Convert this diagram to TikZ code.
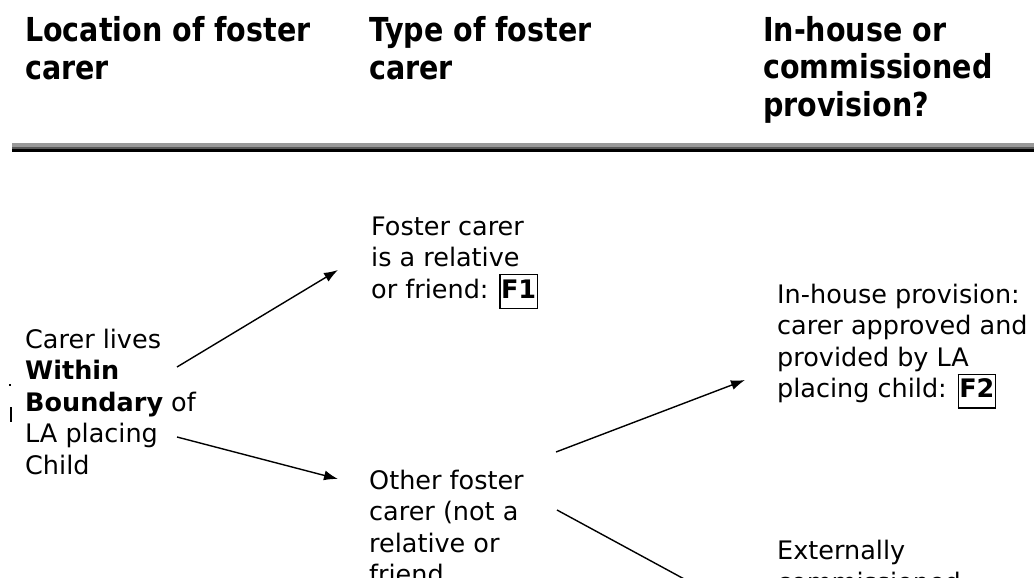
\documentclass[tikz,border=0pt]{standalone}
\usepackage{fontspec}
\setmainfont{DejaVu Sans}
\newfontfamily\headfont[FakeStretch=0.865]{DejaVu Sans}
\usetikzlibrary{arrows.meta}
\newcommand{\fcode}[1]{{\setlength{\fboxsep}{0.5pt}\setlength{\fboxrule}{1.2pt}\fbox{\strut\textbf{#1}}}}
\tikzset{
  headtext/.style={anchor=base west, inner sep=0pt, align=left, font=\headfont\bfseries\fontsize{33}{37.5}\selectfont},
  bodytext/.style={anchor=base west, inner sep=0pt, align=left, font=\fontsize{25.5}{31.5}\selectfont},
  arr/.style={-{Latex[length=14pt,width=10pt]}, line width=1.4pt},
}
\begin{document}
\begin{tikzpicture}[x=1pt,y=-1pt]
\useasboundingbox (0,0) rectangle (1034,578);
\clip (0,0) rectangle (1034,578);
\fill[white] (0,0) rectangle (1034,578);
% headers (anchored at the baseline of their last line)
\node[headtext] (h1) at (25,79.5) {Location of foster\\carer};
\node[headtext] (h2) at (369,79.5) {Type of foster\\carer};
\node[headtext] (h3) at (763,116.5) {In-house or\\commissioned\\provision?};
% double rule
\fill[black!40] (12,143) rectangle (1034,146.5);
\fill[black!65] (12,146.5) rectangle (1034,148.5);
\fill[black] (12,149) rectangle (1034,152);
% stray marks
\fill[black] (9,384) rectangle (11,386);
\fill[black] (10.2,407) rectangle (11.8,422);
% body (anchored at the baseline of their last line)
\node[bodytext] (loc) at (25,474) {Carer lives\\\textbf{Within}\\\textbf{Boundary} of\\LA placing\\Child};
\node[bodytext] (rel) at (371,298) {Foster carer\\is a relative\\or friend: \fcode{F1}};
\node[bodytext] (oth) at (369,583.5) {Other foster\\carer (not a\\relative or\\friend};
\node[bodytext] (inh) at (777,397.5) {In-house provision:\\carer approved and\\provided by LA\\placing child: \fcode{F2}};
\node[bodytext] (ext) at (777,591) {Externally\\commissioned};
% connector ends
\coordinate (a1s) at (177,367);
\coordinate (a1e) at (338,270);
\coordinate (a2s) at (177,437);
\coordinate (a2e) at (338,479);
\coordinate (a3s) at (556,452);
\coordinate (a3e) at (745,380);
\coordinate (a4s) at (557,510);
\coordinate (a4e) at (745,612);
\draw[arr] (a1s) -- (a1e);
\draw[arr] (a2s) -- (a2e);
\draw[arr] (a3s) -- (a3e);
\draw[arr] (a4s) -- (a4e);
\end{tikzpicture}
\end{document}
